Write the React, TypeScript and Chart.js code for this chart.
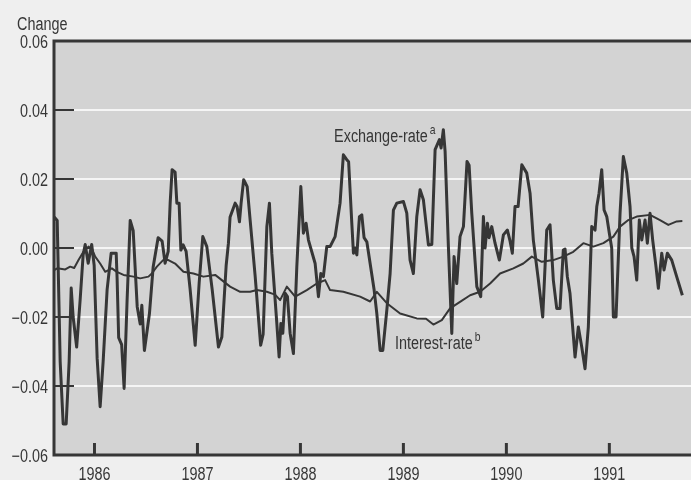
import React, { useEffect, useRef } from 'react';
import { Chart, registerables } from 'chart.js';

Chart.register(...registerables);

const yearTicks = [1986, 1987, 1988, 1989, 1990, 1991];
const yTicks = [-0.06, -0.04, -0.02, 0, 0.02, 0.04, 0.06];

const exchangeDates = [
  1985.609, 1985.638, 1985.667, 1985.696, 1985.725, 1985.754, 1985.774, 1985.793, 1985.827, 1985.861,
  1985.890, 1985.910, 1985.939, 1985.973, 1985.997, 1986.026, 1986.055, 1986.084, 1986.123, 1986.162,
  1986.211, 1986.220, 1986.235, 1986.264, 1986.288, 1986.317, 1986.347, 1986.376, 1986.415, 1986.444,
  1986.460, 1986.485, 1986.534, 1986.570, 1986.618, 1986.657, 1986.686, 1986.716, 1986.735, 1986.754,
  1986.783, 1986.800, 1986.822, 1986.839, 1986.861, 1986.890, 1986.929, 1986.978, 1987.017, 1987.052,
  1987.091, 1987.143, 1987.204, 1987.237, 1987.279, 1987.301, 1987.317, 1987.366, 1987.385, 1987.408,
  1987.424, 1987.449, 1987.483, 1987.512, 1987.560, 1987.614, 1987.638, 1987.674, 1987.699, 1987.722,
  1987.771, 1987.793, 1987.810, 1987.829, 1987.851, 1987.874, 1987.900, 1987.932, 1987.965, 1988.004,
  1988.029, 1988.055, 1988.078, 1988.143, 1988.175, 1988.198, 1988.223, 1988.256, 1988.288, 1988.337,
  1988.385, 1988.417, 1988.450, 1988.468, 1988.499, 1988.515, 1988.531, 1988.548, 1988.573, 1988.596,
  1988.618, 1988.645, 1988.716, 1988.742, 1988.774, 1988.800, 1988.839, 1988.871, 1988.903, 1988.936,
  1989.000, 1989.033, 1989.065, 1989.097, 1989.130, 1989.162, 1989.194, 1989.243, 1989.276, 1989.308,
  1989.350, 1989.366, 1989.388, 1989.405, 1989.437, 1989.470, 1989.492, 1989.518, 1989.550, 1989.583,
  1989.618, 1989.638, 1989.664, 1989.713, 1989.751, 1989.777, 1989.793, 1989.816, 1989.832, 1989.858,
  1989.890, 1989.932, 1989.971, 1990.010, 1990.036, 1990.058, 1990.084, 1990.114, 1990.150, 1990.198,
  1990.230, 1990.262, 1990.311, 1990.353, 1990.392, 1990.424, 1990.456, 1990.489, 1990.521, 1990.553,
  1990.570, 1990.592, 1990.618, 1990.667, 1990.699, 1990.732, 1990.764, 1990.796, 1990.829, 1990.861,
  1990.878, 1990.900, 1990.926, 1990.949, 1990.975, 1991.000, 1991.023, 1991.039, 1991.065, 1991.104,
  1991.136, 1991.169, 1991.201, 1991.218, 1991.240, 1991.266, 1991.291, 1991.315, 1991.347, 1991.369,
  1991.395, 1991.421, 1991.453, 1991.476, 1991.509, 1991.531, 1991.563, 1991.606, 1991.654, 1991.709,
];

const exchangeValues = [
  0.009, 0.008, -0.033, -0.051, -0.051, -0.033, -0.0116, -0.020, -0.0287, -0.015,
  -0.002, 0.001, -0.0044, 0.001, -0.005, -0.032, -0.046, -0.033, -0.012, -0.0015,
  -0.0015, -0.009, -0.026, -0.028, -0.0407, -0.015, 0.008, 0.005, -0.017, -0.022,
  -0.0166, -0.0297, -0.019, -0.0055, 0.003, 0.002, -0.0044, -0.001, 0.013, 0.0227,
  0.022, 0.013, 0.013, -0.0006, 0.0009, -0.001, -0.012, -0.0282, -0.010, 0.0033,
  0.0004, -0.012, -0.0287, -0.0258, -0.005, 0.0014, 0.009, 0.013, 0.012, 0.0076,
  0.013, 0.0198, 0.0178, 0.008, -0.008, -0.0282, -0.025, 0.0062, 0.013, -0.0015,
  -0.0219, -0.0316, -0.0219, -0.0247, -0.0131, -0.0141, -0.0247, -0.0306, -0.0054, 0.0178,
  0.0043, 0.0072, 0.0023, -0.0045, -0.0141, -0.0074, -0.0083, 0.0004, 0.0004, 0.0033,
  0.013, 0.027, 0.0256, 0.025, 0.0072, -0.0015, 0.0, -0.002, 0.0091, 0.0096,
  0.003, 0.0018, -0.0122, -0.019, -0.0297, -0.0297, -0.018, -0.0074, 0.011, 0.013,
  0.0135, 0.0101, -0.0035, -0.0074, 0.0091, 0.0169, 0.014, 0.0009, 0.001, 0.0285,
  0.0314, 0.029, 0.0343, 0.028, 0.0004, -0.0248, -0.0025, -0.0103, 0.0033, 0.0062,
  0.0251, 0.024, 0.0101, -0.0112, -0.0141, 0.0091, 0.0, 0.0072, 0.003, 0.0062,
  0.0014, -0.0035, 0.0038, 0.0052, 0.002, -0.0015, 0.012, 0.012, 0.0241, 0.0217,
  0.0159, 0.0023, -0.0093, -0.020, 0.0052, 0.0067, -0.0093, -0.0175, -0.0175, -0.0006,
  -0.0003, -0.0083, -0.0132, -0.0316, -0.0229, -0.0287, -0.035, -0.0229, 0.0062, 0.0052,
  0.012, 0.0159, 0.0227, 0.011, 0.0091, 0.0043, 0.0, -0.020, -0.020, 0.0101,
  0.0265, 0.0217, 0.012, 0.0, -0.0025, -0.0093, 0.0081, 0.0023, 0.0081, 0.0014,
  0.0101, 0.0023, -0.0054, -0.0117, -0.0015, -0.0064, -0.0015, -0.0035, -0.0083, -0.0137,
];

const interestDates = [
  1985.609, 1985.638, 1985.716, 1985.764, 1985.803, 1985.845, 1985.893, 1985.942, 1985.978, 1986.007,
  1986.055, 1986.104, 1986.169, 1986.217, 1986.282, 1986.379, 1986.444, 1986.524, 1986.557, 1986.606,
  1986.667, 1986.718, 1986.783, 1986.864, 1986.961, 1987.058, 1987.172, 1987.237, 1987.317, 1987.415,
  1987.512, 1987.577, 1987.674, 1987.754, 1987.803, 1987.868, 1987.949, 1988.062, 1988.159, 1988.240,
  1988.288, 1988.417, 1988.580, 1988.677, 1988.742, 1988.839, 1988.968, 1989.130, 1989.220, 1989.291,
  1989.373, 1989.453, 1989.550, 1989.648, 1989.745, 1989.842, 1989.939, 1990.068, 1990.165, 1990.247,
  1990.344, 1990.456, 1990.553, 1990.650, 1990.748, 1990.845, 1990.942, 1991.039, 1991.104, 1991.184,
  1991.266, 1991.395, 1991.492, 1991.573, 1991.654, 1991.709,
];

const interestValues = [
  -0.0064, -0.0059, -0.0062, -0.0054, -0.0058, -0.0035, -0.0011, 0.0004, -0.0005, -0.0025,
  -0.0045, -0.0069, -0.0059, -0.0069, -0.0078, -0.0083, -0.0088, -0.0083, -0.0074, -0.0054,
  -0.0035, -0.0035, -0.0045, -0.0069, -0.0074, -0.0083, -0.0078, -0.0093, -0.0112, -0.0127,
  -0.0127, -0.0122, -0.0127, -0.0135, -0.0151, -0.0112, -0.0141, -0.0122, -0.0103, -0.0093,
  -0.0122, -0.0127, -0.0141, -0.0155, -0.0127, -0.016, -0.019, -0.0204, -0.0205, -0.0222,
  -0.0209, -0.0175, -0.0156, -0.0137, -0.0127, -0.0103, -0.0074, -0.0059, -0.0045, -0.0025,
  -0.004, -0.0035, -0.0025, -0.0011, 0.0014, 0.0004, 0.0014, 0.0033, 0.0062, 0.0081,
  0.0091, 0.0096, 0.0081, 0.0067, 0.0077, 0.0078,
];

const X_MIN = 1985.607;
const X_MAX = 1991.793;
const INK = '#363636';
const FONT_FAMILY = "'Liberation Sans', Arial, sans-serif";
const SQUEEZE = 0.8;
const FONT_SIZE = 18;

const fmtY = (v: number) => {
  if (Math.abs(v) < 1e-9) return '0.00';
  return (v < 0 ? '\u2212' : '') + Math.abs(v).toFixed(2);
};

// draw horizontally condensed text
const narrowText = (ctx: any, text: string, x: number, y: number, align: 'left' | 'right' | 'center', size: number) => {
  ctx.save();
  ctx.font = `${size}px ${FONT_FAMILY}`;
  const w = ctx.measureText(text).width * SQUEEZE;
  let left = x;
  if (align === 'right') left = x - w;
  else if (align === 'center') left = x - w / 2;
  ctx.translate(left, y);
  ctx.scale(SQUEEZE, 1);
  ctx.textAlign = 'left';
  ctx.textBaseline = 'alphabetic';
  ctx.fillText(text, 0, 0);
  ctx.restore();
  return w;
};

const decorPlugin = {
  id: 'decor',
  beforeDraw(chart: any) {
    const { ctx, chartArea: a } = chart;
    ctx.save();
    ctx.fillStyle = '#d3d3d3';
    ctx.fillRect(a.left, a.top, a.right - a.left, a.bottom - a.top);
    ctx.restore();
  },
  afterDraw(chart: any) {
    const { ctx, chartArea: a, scales } = chart;
    const xs = scales.x;
    const ys = scales.y;
    ctx.save();
    ctx.strokeStyle = INK;
    // y tick marks (inside)
    ctx.lineWidth = 2;
    yTicks.forEach((v) => {
      const y = Math.round(ys.getPixelForValue(v));
      ctx.beginPath();
      ctx.moveTo(a.left, y);
      ctx.lineTo(a.left + 20, y);
      ctx.stroke();
    });
    // x tick marks (inside, upward)
    ctx.lineWidth = 3;
    yearTicks.forEach((v) => {
      const x = xs.getPixelForValue(v);
      ctx.beginPath();
      ctx.moveTo(x, a.bottom);
      ctx.lineTo(x, a.bottom - 12);
      ctx.stroke();
    });
    // frame: left, top, bottom
    ctx.lineWidth = 3;
    ctx.beginPath();
    ctx.moveTo(a.right, a.top);
    ctx.lineTo(a.left, a.top);
    ctx.lineTo(a.left, a.bottom);
    ctx.lineTo(a.right, a.bottom);
    ctx.stroke();

    // texts
    ctx.fillStyle = INK;
    narrowText(ctx, 'Change', 17, 30, 'left', FONT_SIZE);

    yTicks.forEach((v) => {
      const y = ys.getPixelForValue(v);
      narrowText(ctx, fmtY(v), a.left - 6, y + 6.5, 'right', FONT_SIZE);
    });
    yearTicks.forEach((v) => {
      const x = xs.getPixelForValue(v);
      narrowText(ctx, String(v), x, 480, 'center', FONT_SIZE);
    });

    const drawLabel = (text: string, sup: string, xv: number, yv: number) => {
      const x = xs.getPixelForValue(xv);
      const y = ys.getPixelForValue(yv);
      const w = narrowText(ctx, text, x, y, 'left', FONT_SIZE);
      narrowText(ctx, sup, x + w + 2, y - 8, 'left', 13);
    };
    drawLabel('Exchange-rate', 'a', 1988.327, 0.0308);
    drawLabel('Interest-rate', 'b', 1988.919, -0.0293);
    ctx.restore();
  },
};

export default function App() {
  const ref = useRef<HTMLCanvasElement | null>(null);

  useEffect(() => {
    if (!ref.current) return;
    document.body.style.margin = '0';
    const chart = new Chart(ref.current, {
      type: 'line',
      data: {
        datasets: [
          {
            label: 'Exchange-rate',
            data: exchangeDates.map((d, i) => ({ x: d, y: exchangeValues[i] })),
            borderColor: INK,
            borderWidth: 3,
            pointRadius: 0,
            tension: 0,
            borderJoinStyle: 'round',
            fill: false,
          },
          {
            label: 'Interest-rate',
            data: interestDates.map((d, i) => ({ x: d, y: interestValues[i] })),
            borderColor: INK,
            borderWidth: 2,
            pointRadius: 0,
            tension: 0,
            borderJoinStyle: 'round',
            fill: false,
          },
        ],
      },
      options: {
        responsive: false,
        animation: false,
        devicePixelRatio: 1,
        layout: { padding: { top: 41, right: 0, left: 0, bottom: 0 } },
        plugins: {
          legend: { display: false },
          tooltip: { enabled: false },
          title: { display: false },
        },
        scales: {
          x: {
            type: 'linear',
            min: X_MIN,
            max: X_MAX,
            afterBuildTicks: (s: any) => {
              s.ticks = yearTicks.map((v) => ({ value: v }));
            },
            afterFit: (s: any) => {
              s.height = 25;
            },
            grid: { display: false, drawTicks: false },
            border: { display: false },
            ticks: { display: false },
          },
          y: {
            type: 'linear',
            min: -0.06,
            max: 0.06,
            afterBuildTicks: (s: any) => {
              s.ticks = yTicks.map((v) => ({ value: v }));
            },
            afterFit: (s: any) => {
              s.width = 54;
            },
            grid: { color: '#f5f5f5', lineWidth: 2, drawTicks: false },
            border: { display: false },
            ticks: { display: false },
          },
        },
      },
      plugins: [decorPlugin],
    } as any);
    return () => chart.destroy();
  }, []);

  return (
    <div style={{ position: 'fixed', left: 0, top: 0, width: 691, height: 480, background: '#efefef' }}>
      <canvas ref={ref} width={691} height={480} style={{ display: 'block', width: 691, height: 480 }} />
    </div>
  );
}
